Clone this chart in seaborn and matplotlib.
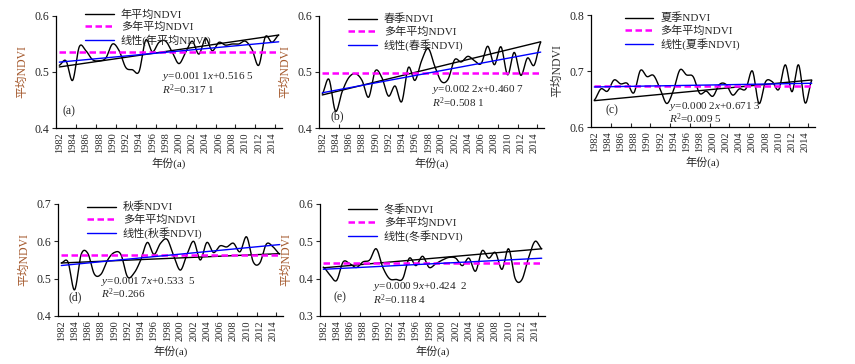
import numpy as np
import pandas as pd
import matplotlib
matplotlib.use('Agg')
import matplotlib.pyplot as plt
import seaborn as sns

years = list(range(1982, 2016))

# annual / seasonal mean NDVI
ndvi_year = [0.512, 0.520, 0.485, 0.545, 0.538, 0.522, 0.520, 0.525, 0.550, 0.538,
             0.508, 0.504, 0.501, 0.557, 0.536, 0.553, 0.555, 0.535, 0.515, 0.535,
             0.555, 0.532, 0.560, 0.538, 0.553, 0.548, 0.550, 0.550, 0.555, 0.540,
             0.512, 0.563, 0.553, 0.566]
ndvi_spring = [0.461, 0.487, 0.430, 0.465, 0.490, 0.497, 0.485, 0.455, 0.502, 0.490,
               0.457, 0.475, 0.447, 0.508, 0.485, 0.520, 0.542, 0.510, 0.483, 0.487,
               0.522, 0.518, 0.528, 0.520, 0.515, 0.546, 0.513, 0.545, 0.495, 0.535,
               0.494, 0.525, 0.512, 0.553]
ndvi_summer = [0.648, 0.668, 0.664, 0.684, 0.677, 0.678, 0.661, 0.701, 0.690, 0.692,
               0.668, 0.642, 0.665, 0.702, 0.693, 0.690, 0.660, 0.664, 0.655, 0.676,
               0.676, 0.657, 0.668, 0.668, 0.700, 0.642, 0.681, 0.681, 0.667, 0.711,
               0.663, 0.711, 0.643, 0.683]
ndvi_autumn = [0.542, 0.545, 0.470, 0.565, 0.568, 0.512, 0.512, 0.550, 0.570, 0.565,
               0.505, 0.515, 0.550, 0.597, 0.565, 0.595, 0.605, 0.560, 0.523, 0.565,
               0.600, 0.550, 0.597, 0.570, 0.588, 0.585, 0.595, 0.572, 0.612, 0.545,
               0.542, 0.593, 0.585, 0.566]
ndvi_winter = [0.431, 0.410, 0.395, 0.445, 0.440, 0.430, 0.445, 0.450, 0.480, 0.430,
               0.400, 0.398, 0.400, 0.455, 0.435, 0.460, 0.430, 0.440, 0.450, 0.457,
               0.455, 0.435, 0.455, 0.420, 0.475, 0.455, 0.470, 0.425, 0.480, 0.400,
               0.397, 0.455, 0.500, 0.480]

series = [ndvi_year, ndvi_spring, ndvi_summer, ndvi_autumn, ndvi_winter]
names = ['年平均NDVI', '春季NDVI', '夏季NDVI', '秋季NDVI', '冬季NDVI']
panel_tags = ['(a)', '(b)', '(c)', '(d)', '(e)']
means = [0.536, 0.498, 0.673, 0.563, 0.441]
slopes = [0.0011, 0.0022, 0.0002, 0.0017, 0.0009]
intercepts = [0.5165, 0.4607, 0.6713, 0.5335, 0.4242]
eq_text = ['$y$=0.001 1$x$+0.516 5', '$y$=0.002 2$x$+0.460 7', '$y$=0.000 2$x$+0.671 3',
           '$y$=0.001 7$x$+0.533  5', '$y$=0.000 9$x$+0.424  2']
r2_text = ['$R^2$=0.317 1', '$R^2$=0.508 1', '$R^2$=0.009 5', '$R^2$=0.266', '$R^2$=0.118 4']
# black straight line (start, end)
black_ends = [(0.509, 0.566), (0.459, 0.554), (0.647, 0.684), (0.542, 0.567), (0.429, 0.480)]
ylims = [(0.4, 0.6), (0.4, 0.6), (0.6, 0.8), (0.4, 0.7), (0.3, 0.6)]

sns.set_style('ticks')
plt.rcParams['font.family'] = ['Liberation Serif', 'Noto Sans CJK SC']
plt.rcParams['mathtext.fontset'] = 'custom'
plt.rcParams['mathtext.rm'] = 'Liberation Serif'
plt.rcParams['mathtext.it'] = 'Liberation Serif:italic'


def smooth(x, y, n=16):
    # excel-like smoothed line (catmull-rom)
    y = np.asarray(y, float)
    yp = np.concatenate([[y[0]], y, [y[-1]]])
    xs, ys = [], []
    t = np.linspace(0, 1, n, endpoint=False)
    for i in range(len(y) - 1):
        p0, p1, p2, p3 = yp[i], yp[i + 1], yp[i + 2], yp[i + 3]
        v = 0.5 * (2 * p1 + (-p0 + p2) * t + (2 * p0 - 5 * p1 + 4 * p2 - p3) * t ** 2
                   + (-p0 + 3 * p1 - 3 * p2 + p3) * t ** 3)
        xs.extend(x[i] + t * (x[i + 1] - x[i]))
        ys.extend(v)
    xs.append(x[-1])
    ys.append(y[-1])
    return np.array(xs), np.array(ys)


fig = plt.figure(figsize=(8.55, 3.64), dpi=100)
W, H = 855, 364
boxes = [(56, 16, 226, 112), (319, 16, 225, 112), (591, 15, 224, 112),
         (58, 204, 225, 112), (320, 204, 225, 112)]
legend_at = [(0.13, 1.06), (0.13, 1.02), (0.15, 1.02), (0.13, 1.02), (0.125, 1.0)]
eq_at = [(0.47, 0.46), (0.50, 0.34), (0.35, 0.185), (0.19, 0.31), (0.235, 0.26)]
tag_at = [(0.03, 0.125), (0.05, 0.08), (0.065, 0.125), (0.045, 0.14), (0.06, 0.14)]
ylab_col = ['#a55a2e', '#a55a2e', '#333333', '#a55a2e', '#a55a2e']

x = np.array(years, float)
idx = np.arange(1, len(years) + 1)

for k in range(5):
    l, t, w, h = boxes[k]
    ax = fig.add_axes([l / W, 1 - (t + h) / H, w / W, h / H])
    sx, sy = smooth(x, series[k])
    df = pd.DataFrame({'year': sx, 'ndvi': sy})
    sns.lineplot(data=df, x='year', y='ndvi', ax=ax, color='black', lw=1.0,
                 label=names[k], sort=False)
    sns.lineplot(x=[x[0], x[-1]], y=list(black_ends[k]), ax=ax, color='black', lw=1.0)
    sns.lineplot(x=[x[0], x[-1]], y=[means[k], means[k]], ax=ax, color='#ff00ff',
                 lw=1.8, dashes=False, label='多年平均NDVI').lines[-1].set_dashes((2.6, 1.4))
    sns.lineplot(x=x, y=intercepts[k] + slopes[k] * idx, ax=ax, color='#0000ff', lw=1.0,
                 label='线性(' + names[k] + ')')

    ax.set_xlim(1981.5, 2015.5)
    ax.set_ylim(*ylims[k])
    ax.set_yticks(np.arange(ylims[k][0], ylims[k][1] + 0.001, 0.1))
    ax.yaxis.set_major_formatter(matplotlib.ticker.FormatStrFormatter('%.1f'))
    ax.set_xticks(range(1982, 2015, 2))
    ax.set_xticklabels([str(v) for v in range(1982, 2015, 2)], rotation=90)
    ax.set_xticks(np.arange(1984.5, 2015, 3), minor=True)
    ax.tick_params(axis='x', which='major', length=0, pad=3, labelsize=7.5)
    ax.tick_params(axis='x', which='minor', direction='in', length=3, width=0.8)
    ax.tick_params(axis='y', length=3, width=0.8, labelsize=8.5, pad=2)
    for s in ['left', 'bottom']:
        ax.spines[s].set_linewidth(0.9)
        ax.spines[s].set_color('black')
    sns.despine(ax=ax)
    ax.set_xlabel('年份(a)', fontsize=8, labelpad=3)
    ax.set_ylabel('平均NDVI', fontsize=8.5, color=ylab_col[k], labelpad=4)

    leg = ax.legend(loc='upper left', bbox_to_anchor=legend_at[k], frameon=False,
                    fontsize=8, handlelength=2.6, handletextpad=0.6, labelspacing=0.2,
                    borderaxespad=0, borderpad=0)
    ax.text(eq_at[k][0], eq_at[k][1], eq_text[k], transform=ax.transAxes, fontsize=8,
            va='center')
    ax.text(eq_at[k][0], eq_at[k][1] - 0.115, r2_text[k], transform=ax.transAxes,
            fontsize=8, va='center')
    ax.text(tag_at[k][0], tag_at[k][1], panel_tags[k], transform=ax.transAxes, fontsize=8.5)

plt.savefig('out.png', dpi=100)
